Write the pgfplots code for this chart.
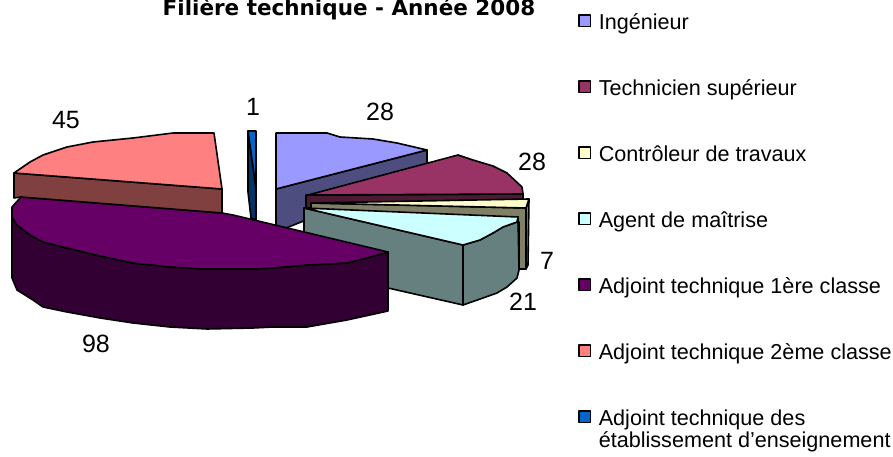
\documentclass[border=0pt]{standalone}
\usepackage{fontspec}
\setmainfont{Liberation Sans}
\newfontfamily\titlefont{DejaVu Sans}
\usepackage{pgfplots}
\pgfplotsset{compat=1.18}
\definecolor{ing}{HTML}{9999FF}
\definecolor{ingd}{HTML}{4D4D80}
\definecolor{tech}{HTML}{993366}
\definecolor{techd}{HTML}{4D1A33}
\definecolor{ctrl}{HTML}{FFFFCC}
\definecolor{ctrld}{HTML}{808066}
\definecolor{agent}{HTML}{CCFFFF}
\definecolor{agentd}{HTML}{668080}
\definecolor{adjA}{HTML}{660066}
\definecolor{adjAd}{HTML}{330033}
\definecolor{adjB}{HTML}{FF8080}
\definecolor{adjBd}{HTML}{804040}
\definecolor{adjC}{HTML}{0066CC}
\definecolor{adjCd}{HTML}{003366}

\pgfplotsset{
  slice/.style={fill=#1, draw=black, line width=1.6pt, line join=round},
  side/.style={slice=#1, forget plot},
}

\begin{document}
\begin{tikzpicture}
\useasboundingbox (0,0) rectangle (893pt,457pt);
\begin{axis}[
    at={(0,0)}, anchor=south west,
    scale only axis,
    width=893pt, height=457pt,
    xmin=0, xmax=893, ymin=0, ymax=457,
    y dir=reverse,
    hide axis,
    clip=false,
    legend cell align=left,
    legend image code/.code={\path[draw=none,fill=none] (0pt,0pt) rectangle (20pt,1pt);\draw[#1, line width=1.6pt] (0pt,-1pt) rectangle (11.5pt,10.5pt);},
    legend style={
        at={(axis cs:578,14)}, anchor=north west,
        draw=none, fill=none, inner sep=0pt, outer sep=0pt,
        row sep=43pt,
        font=\fontsize{21.6}{21.5}\selectfont,
        nodes={inner sep=0pt, text height=15pt, text depth=8pt},
    },
]
% Ingenieur
\addplot[side=ingd] coordinates {(276,189) (427,150) (427,172) (276,232)} --cycle;
\addplot[slice=ing] coordinates {(276,133) (327,133) (340,137) (373,139) (397,143) (427,150) (276,189)} --cycle;
\addlegendentry{Ingénieur}
% Technicien superieur
\addplot[side=techd] coordinates {(306,195) (523,194) (523,201) (306,208)} --cycle;
\addplot[slice=tech] coordinates {(308,195) (458,155) (473,160) (493,166) (507,173) (522,187) (523,194)} --cycle;
\addlegendentry{Technicien supérieur}
% Controleur de travaux
\addplot[side=ctrld] coordinates {(311,203) (526,208) (526,269) (519,269) (519,222) (311,216)} --cycle;
\addplot[side=ctrld] coordinates {(526,208) (529,199) (528,265) (526,269)} --cycle;
\addplot[slice=ctrl] coordinates {(311,203) (529,199) (526,208)} --cycle;
\addlegendentry{Contrôleur de travaux}
% Agent de maitrise
\addplot[side=agentd] coordinates {(304,208) (463,245) (463,305) (388,288) (304,262)} --cycle;
\addplot[side=agentd] coordinates {(463,245) (480,240) (493,233) (503,227) (517,222) (518,217) (519,270) (517,278) (507,287) (497,293) (483,298) (463,305)} --cycle;
\addplot[slice=agent] coordinates {(304,208) (518,217) (517,222) (503,227) (493,233) (480,240) (463,245)} --cycle;
\addlegendentry{Agent de maîtrise}
% Adjoint technique 1ere classe
\addplot[side=adjAd] coordinates {(12,217) (17,225) (30,235) (43,242) (67,248) (100,256) (133,263) (170,267) (203,269) (253,269) (273,268) (307,265) (347,263) (367,258) (388,252) (388,311) (347,320) (307,327) (273,327) (253,328) (207,329) (170,327) (133,323) (100,318) (67,312) (43,307) (33,300) (17,290) (12,278)} --cycle;
\addplot[slice=adjA] coordinates {(21,197) (222,213) (233,215) (388,252) (367,258) (347,263) (307,265) (273,268) (253,269) (203,269) (170,267) (133,263) (100,256) (67,248) (43,242) (30,235) (17,225) (12,217) (12,207)} --cycle;
\addlegendentry{Adjoint technique 1ère classe}
% Adjoint technique 2eme classe
\addplot[side=adjBd] coordinates {(14,173) (222,189) (222,213) (21,197) (14,198)} --cycle;
\addplot[slice=adjB] coordinates {(14,173) (30,162) (43,155) (67,147) (93,142) (133,138) (173,133) (214,133) (222,189)} --cycle;
\addlegendentry{Adjoint technique 2ème classe}
% Adjoint technique des etablissement d'enseignement
\addplot[side=adjCd] coordinates {(248,131) (256,188) (256,220) (251,218) (248,192)} --cycle;
\addplot[slice=adjC] coordinates {(248,131) (256,131) (256,188)} --cycle;
\addlegendentry{\begin{tabular}[t]{@{}l@{}}Adjoint technique des\\établissement d'enseignement\end{tabular}}

\node[font=\titlefont\bfseries\fontsize{21.5}{24}\selectfont, anchor=base] at (axis cs:349,16) {Filière technique - Année 2008};
\foreach \lx/\ly/\lab in {66/120/45, 253/107/1, 380/112/28, 532/162/28, 547/261/7, 523/302/21, 96/344/98}{
  \edef\tmp{\noexpand\node[font=\noexpand\fontsize{25}{27}\noexpand\selectfont] at (axis cs:\lx,\ly) {\lab};}
  \tmp
}
\end{axis}
\end{tikzpicture}
\end{document}
